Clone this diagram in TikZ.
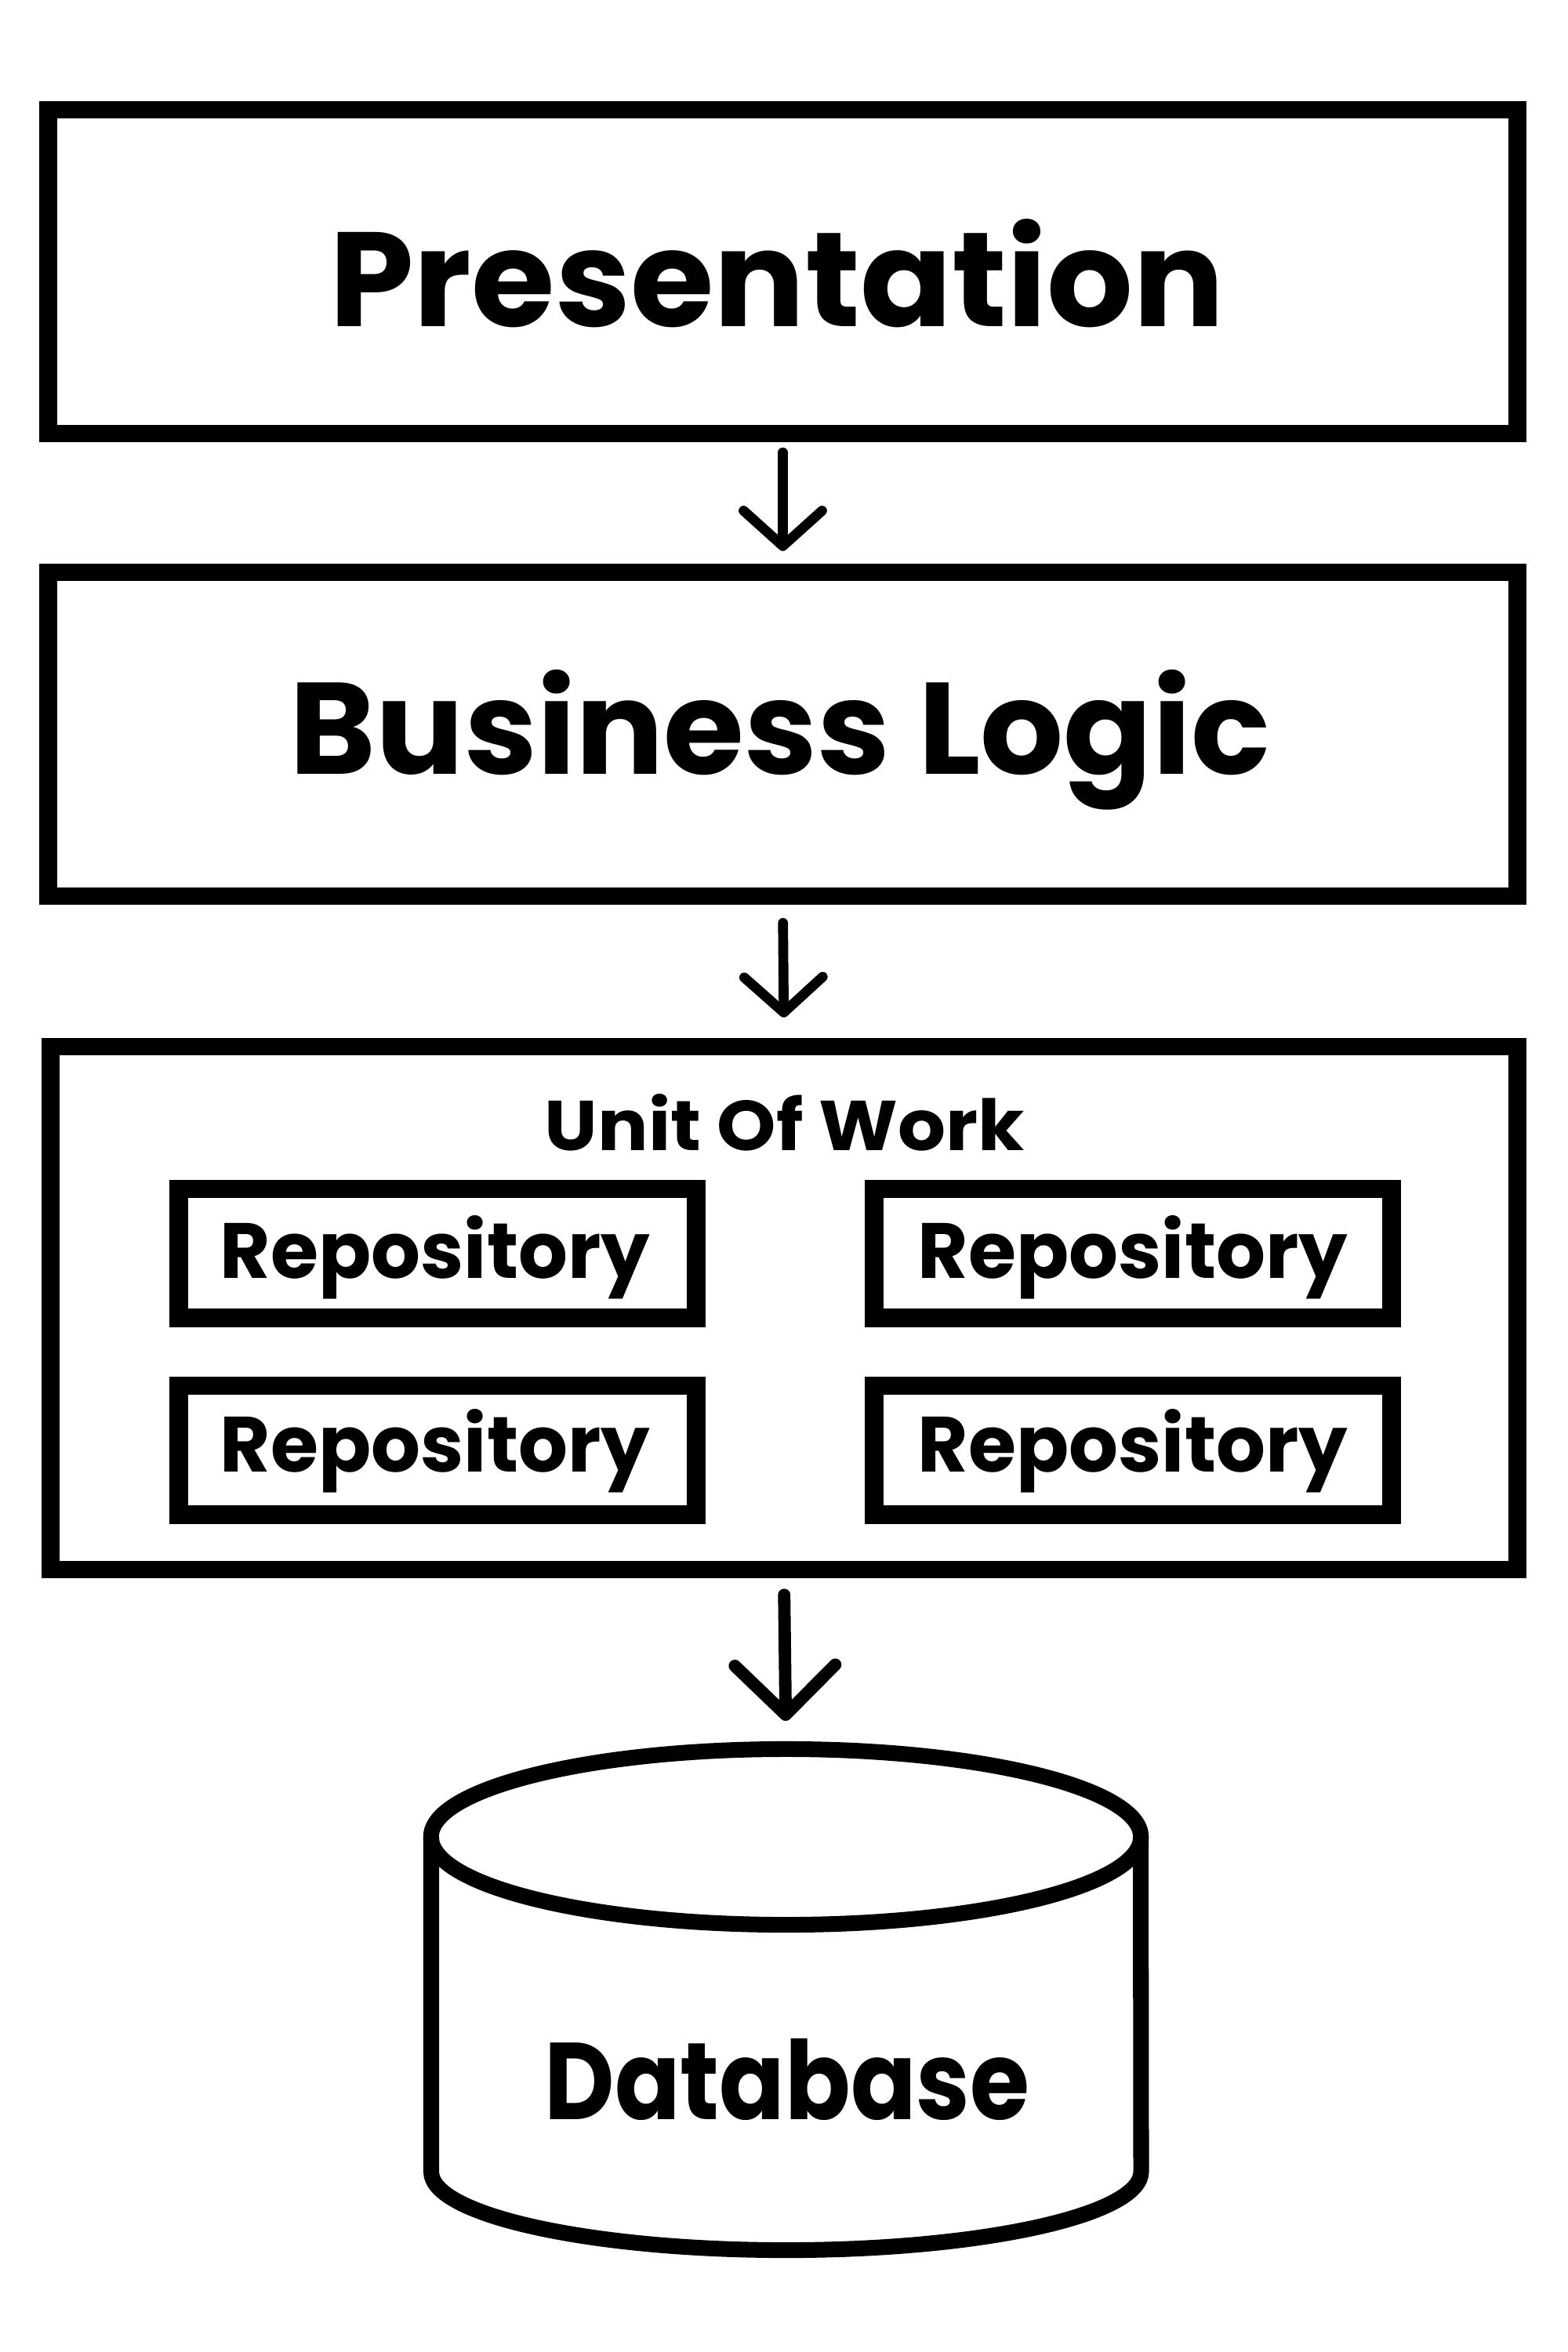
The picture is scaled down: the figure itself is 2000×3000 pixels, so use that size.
\documentclass[tikz,border=0pt]{standalone}
\usepackage{fontspec}
\setmainfont{Poppins}
\usepackage{graphicx}
\usetikzlibrary{arrows.meta}
\newcommand{\fitlbl}[3]{\resizebox{#1}{#2}{\bfseries #3}}
\tikzset{
  layer/.style={draw, line width=6.3pt, line join=miter, inner sep=0pt, minimum width=18.73cm, minimum height=4.13cm},
  repo/.style={draw, line width=6.8pt, line join=miter, inner sep=0pt, minimum width=6.6cm, minimum height=1.64cm},
  lbl/.style={anchor=base, inner sep=0pt, outer sep=0pt},
  arrsmall/.style={line width=3.6pt, line cap=round, -{Straight Barb[length=0.45cm, width=1.0cm, round]}},
  arrbig/.style={line width=4.5pt, line cap=round, -{Straight Barb[length=0.63cm, width=1.28cm, round]}},
  cyl/.style={line width=5.7pt, line join=round}
}
\begin{document}
\begin{tikzpicture}[x=0.01cm, y=-0.01cm]
\useasboundingbox (0,0) rectangle (2000,3000);
% layers
\node[layer] (pres) at (998.5,346.5) {};
\node[layer] (biz) at (998.5,936.5) {};
\node[layer, minimum width=18.7cm, minimum height=6.67cm] (uow) at (1000,1668.5) {};
% repositories
\node[repo] (r1) at (558,1598.5) {};
\node[repo] (r2) at (1445,1598.5) {};
\node[repo] (r3) at (558,1849.5) {};
\node[repo] (r4) at (1445,1849.5) {};
% labels
\node[lbl] (presT) at (991,416) {\fitlbl{11.41cm}{1.37cm}{Presentation}};
\node[lbl] (bizT) at (995,987) {\fitlbl{12.5cm}{1.33cm}{Business Logic}};
\node[lbl] (uowT) at (1001,1467) {\fitlbl{6.12cm}{0.72cm}{Unit Of Work}};
\node[lbl] (r1T) at (555,1630) {\fitlbl{5.48cm}{0.80cm}{Repository}};
\node[lbl] (r2T) at (1445,1630) {\fitlbl{5.48cm}{0.80cm}{Repository}};
\node[lbl] (r3T) at (555,1877) {\fitlbl{5.48cm}{0.80cm}{Repository}};
\node[lbl] (r4T) at (1445,1877) {\fitlbl{5.48cm}{0.80cm}{Repository}};
% database cylinder
\draw[cyl] (550,2343) -- (550,2770) arc[start angle=180, end angle=360, x radius=4.525cm, y radius=1cm] -- (1455,2343);
\draw[cyl] (1002.5,2343) ellipse [x radius=4.525cm, y radius=1.12cm];
\coordinate (dbtop) at (1002.5,2221);
\node[lbl] (dbT) at (1004,2703) {\fitlbl{6.18cm}{1.03cm}{Database}};
% arrows
\draw[arrsmall, shorten <=0.13cm, shorten >=0.16cm] (pres.south) -- (biz.north);
\draw[arrsmall, shorten <=0.23cm, shorten >=0.26cm] (biz.south) -- (uow.north);
\draw[arrbig, shorten <=0.21cm, shorten >=0.26cm] (uow.south) -- (dbtop);
\end{tikzpicture}
\end{document}
